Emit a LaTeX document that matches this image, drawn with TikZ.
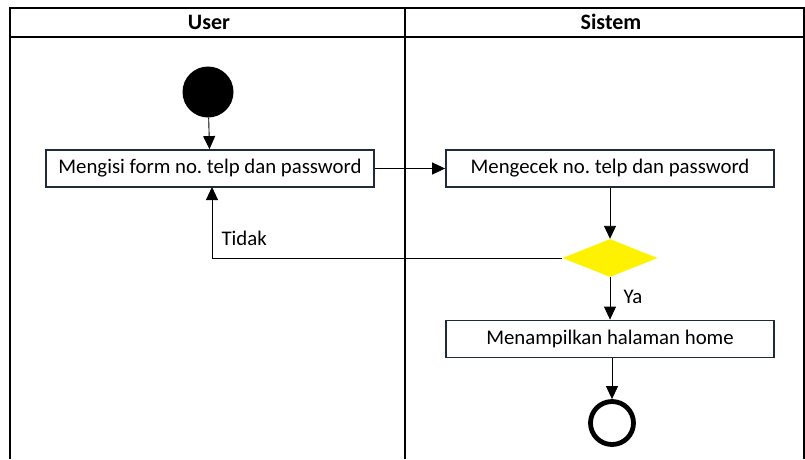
\documentclass[tikz,border=0pt]{standalone}
\usepackage{fontspec}
\setmainfont{Carlito}
\usetikzlibrary{arrows.meta,shapes.geometric}
\definecolor{boxline}{HTML}{1F2A3C}
\frenchspacing
\tikzset{
  act/.style={draw=boxline,line width=1.8pt,minimum width=328pt,minimum height=37pt,inner sep=0pt,text height=12pt,text depth=2pt,font=\fontsize{20.8}{24}\selectfont},
  flow/.style={line width=0.9pt,-{Triangle[width=12pt,length=13pt]}},
  lane/.style={line width=1.4pt},
  lbl/.style={font=\fontsize{20.8}{24}\selectfont,anchor=west},
  head/.style={font=\bfseries\fontsize{22}{26}\selectfont}
}
\begin{document}
\begin{tikzpicture}[x=1pt,y=-1pt]
\useasboundingbox (0,0) rectangle (805,459);
% swimlanes
\draw[lane] (10,459) -- (10,8) -- (804,8) -- (804,459);
\draw[lane] (10,37) -- (804,37);
\draw[lane] (405,8) -- (405,459);
\node[head] (hu) at (209,22) {User};
\node[head] (hs) at (611,22) {Sistem};
% nodes
\node[circle,fill=black,minimum size=51pt,inner sep=0pt] (start) at (208,92) {};
\node[act] (a1) at (210,168.5) {Mengisi form no. telp dan password};
\node[act] (a2) at (610,168.5) {Mengecek no. telp dan password};
\node[diamond,fill=yellow,minimum width=95pt,minimum height=38pt,inner sep=0pt,aspect=2.5] (d) at (610,258) {};
\node[act] (a3) at (610,339) {Menampilkan halaman home};
\node[circle,draw=black,line width=4.8pt,minimum size=43pt,inner sep=0pt] (end) at (612,423) {};
% connectors
\draw[flow] (start) -- (a1);
\draw[flow] (a1) -- (a2);
\draw[flow] (a2) -- (d);
\draw[flow] (d.west) -- (212,258) -- (212,187);
\draw[flow] (d) -- (a3);
\draw[flow] (a3.south -| end) -- (end.north);
\node[lbl] (tidak) at (218,238) {Tidak};
\node[lbl] (ya) at (620,297) {Ya};
\end{tikzpicture}
\end{document}
